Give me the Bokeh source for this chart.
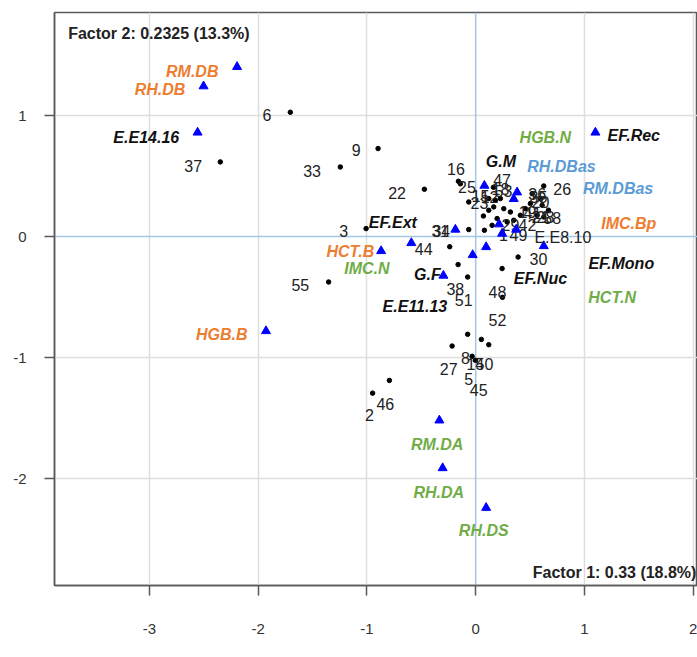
from bokeh.plotting import figure
from bokeh.models import Range1d, FixedTicker, Span, Label, ColumnDataSource
from bokeh.embed import file_html
from bokeh.resources import INLINE
from bokeh.core.properties import value

# ---------------- data ----------------
# individuals (black dots): coordinates on factor 1 / factor 2
ind_id = ["6", "37", "33", "9", "22", "16", "25", "3", "55", "44", "31", "34",
          "38", "51", "48", "52", "30", "27", "8", "14", "50", "5", "45", "46", "2", "26",
          "23", "15", "12", "18", "47", "53", "36", "35", "20", "19", "41", "21", "28",
          "58", "29", "42", "49", "1", "", "", "", "", ""]
ind_f1 = [-1.705, -2.349, -1.245, -0.898, -0.472, -0.159, -0.141, -1.008, -1.353, -0.239, -0.064, 0.080,
          -0.162, -0.074, 0.243, 0.246, 0.390, -0.217, -0.074, 0.052, 0.120, -0.033, -0.003, -0.794, -0.948, 0.626,
          -0.064, 0.120, 0.181, 0.227, 0.163, 0.258, 0.519, 0.595, 0.503, 0.457, 0.611, 0.565, 0.626,
          0.669, 0.319, 0.411, 0.350, 0.289, 0.071, 0.120, 0.197, 0.151, 0.166]
ind_f2 = [1.027, 0.617, 0.575, 0.727, 0.391, 0.457, 0.436, 0.066, -0.375, -0.084, 0.058, 0.052,
          -0.231, -0.334, -0.264, -0.502, -0.169, -0.904, -0.807, -0.849, -0.893, -0.989, -1.022, -1.188, -1.293, 0.418,
          0.286, 0.314, 0.300, 0.314, 0.407, 0.231, 0.355, 0.314, 0.273, 0.231, 0.259, 0.176, 0.162,
          0.218, 0.203, 0.176, 0.135, 0.121, 0.170, 0.217, 0.149, 0.093, 0.245]
# where each individual's number is written
ind_lab_f1 = [-1.919, -2.598, -1.505, -1.100, -0.723, -0.182, -0.081, -1.215, -1.613, -0.478, -0.325, -0.316,
              -0.187, -0.110, 0.200, 0.200, 0.577, -0.248, -0.095, -0.003, 0.080, -0.064, 0.028, -0.831, -0.978, 0.795,
              0.034, 0.043, 0.126, 0.227, 0.243, 0.255, 0.565, 0.577, 0.595, 0.476, 0.522, 0.595, 0.641,
              0.703, 0.319, 0.476, 0.393, 0.255, 0.071, 0.120, 0.197, 0.151, 0.166]
ind_lab_f2 = [1.002, 0.583, 0.542, 0.713, 0.364, 0.562, 0.412, 0.046, -0.402, -0.099, 0.046, 0.046,
              -0.430, -0.521, -0.458, -0.688, -0.188, -1.091, -1.000, -1.050, -1.055, -1.174, -1.264, -1.380, -1.477, 0.391,
              0.275, 0.333, 0.325, 0.391, 0.465, 0.374, 0.350, 0.325, 0.283, 0.201, 0.192, 0.159, 0.159,
              0.154, 0.093, 0.093, 0.011, 0.011, 0.170, 0.217, 0.149, 0.093, 0.245]

# variable categories (blue triangles)
cat_f1 = [-2.195, -2.503, -2.558, -1.929, -0.870, -0.592, -0.297, -0.187, -0.028, 0.096, 0.080,
          0.381, 0.350, 0.215, 0.243, 0.372, 0.626, 1.101, -0.334, -0.304, 0.096]
cat_f2 = [1.402, 1.242, 0.860, -0.780, -0.119, -0.053, -0.322, 0.058, -0.152, -0.086, 0.421,
          0.366, 0.311, 0.102, 0.025, 0.058, -0.078, 0.860, -1.518, -1.912, -2.240]

# category names and where they are written
cat_name = ["RM.DB", "RH.DB", "E.E14.16", "HGB.B", "HCT.B", "IMC.N", "G.F", "EF.Ext", "E.E11.13",
            "EF.Nuc", "G.M", "HGB.N", "RH.DBas", "RM.DBas", "IMC.Bp", "E.E8.10", "EF.Rec",
            "EF.Mono", "HCT.N", "RM.DA", "RH.DA", "RH.DS"]
cat_lab_f1 = [-2.607, -2.903, -3.030, -2.335, -1.153, -1.001, -0.444, -0.762, -0.559,
              0.595, 0.232, 0.641, 0.789, 1.310, 1.408, 0.802, 1.454,
              1.339, 1.255, -0.355, -0.340, 0.074]
cat_lab_f2 = [1.366, 1.217, 0.821, -0.807, -0.121, -0.266, -0.312, 0.118, -0.576,
              -0.347, 0.617, 0.818, 0.583, 0.397, 0.107, -0.008, 0.837,
              -0.223, -0.499, -1.717, -2.111, -2.427]
cat_group = ["orange", "orange", "black", "orange", "orange", "green", "black", "black", "black",
             "black", "black", "green", "blue", "blue", "orange", "plain", "black",
             "black", "green", "green", "green", "green"]

x_ticks = [-3, -2, -1, 0, 1, 2]
y_ticks = [-2, -1, 0, 1]
f1_title = "Factor 1: 0.33 (18.8%)"
f2_title = "Factor 2: 0.2325 (13.3%)"

# ---------------- styles ----------------
palette = {"orange": "#ED7D31", "green": "#70AD47", "blue": "#5B9BD5", "black": "#111111", "plain": "#222222"}
FONT = value("Liberation Sans")
FRAME = "#595959"

p = figure(width=697, height=657,
           x_range=Range1d(-3.874, 2.040), y_range=Range1d(-2.882, 1.851),
           output_backend="svg", toolbar_location=None,
           min_border_left=54, min_border_right=0, min_border_top=12, min_border_bottom=72)
p.background_fill_color = "white"
p.border_fill_color = "white"
p.outline_line_color = FRAME
p.outline_line_width = 1.5

for ax, ticks in ((p.xaxis, x_ticks), (p.yaxis, y_ticks)):
    ax.ticker = FixedTicker(ticks=ticks)
    ax.major_label_overrides = {t: str(t) for t in ticks}
    ax.axis_line_color = FRAME
    ax.axis_line_width = 1.5
    ax.major_tick_line_color = FRAME
    ax.major_tick_line_width = 1.5
    ax.major_tick_out = 10
    ax.major_tick_in = 0
    ax.minor_tick_line_color = None
    ax.major_label_text_font = "Liberation Sans"
    ax.major_label_text_font_size = "15px"
    ax.major_label_text_color = "#333333"
p.xaxis.major_label_standoff = 28
p.yaxis.major_label_standoff = 18

p.xgrid.ticker = FixedTicker(ticks=[t for t in x_ticks if t != 0])
p.ygrid.ticker = FixedTicker(ticks=[t for t in y_ticks if t != 0])
p.grid.grid_line_color = "#dedede"
p.grid.grid_line_width = 1.5

p.add_layout(Span(location=0, dimension="height", line_color="#a4c6e6", line_width=1.5, level="underlay"))
p.add_layout(Span(location=0, dimension="width", line_color="#a4c6e6", line_width=1.5, level="underlay"))

# individuals
ind_src = ColumnDataSource(dict(x=ind_f1, y=ind_f2, lx=ind_lab_f1, ly=ind_lab_f2, t=ind_id))
p.scatter("x", "y", source=ind_src, marker="circle", size=4.5, color="black")
p.text("lx", "ly", text="t", source=ind_src, text_font=FONT, text_font_size="16px",
       text_color="#222222", text_align="center", text_baseline="middle")

# categories
p.scatter(cat_f1, cat_f2, marker="triangle", size=9, color="#0000FF")
bold_idx = [i for i, g in enumerate(cat_group) if g != "plain"]
plain_idx = [i for i, g in enumerate(cat_group) if g == "plain"]
bold_src = ColumnDataSource(dict(x=[cat_lab_f1[i] for i in bold_idx], y=[cat_lab_f2[i] for i in bold_idx],
                                 t=[cat_name[i] for i in bold_idx], c=[palette[cat_group[i]] for i in bold_idx]))
plain_src = ColumnDataSource(dict(x=[cat_lab_f1[i] for i in plain_idx], y=[cat_lab_f2[i] for i in plain_idx],
                                  t=[cat_name[i] for i in plain_idx], c=[palette[cat_group[i]] for i in plain_idx]))
p.text("x", "y", text="t", source=bold_src, text_font=FONT, text_font_size="16px",
       text_font_style="bold italic", text_color="c", text_align="center", text_baseline="middle")
p.text("x", "y", text="t", source=plain_src, text_font=FONT, text_font_size="16px",
       text_color="c", text_align="center", text_baseline="middle")

p.add_layout(Label(x=-3.748, y=1.680, text=f2_title, text_font="Liberation Sans", text_font_size="16px",
                   text_font_style="bold", text_color="#222222", text_baseline="middle", text_align="left"))
p.add_layout(Label(x=2.030, y=-2.772, text=f1_title, text_font="Liberation Sans", text_font_size="16px",
                   text_font_style="bold", text_color="#222222", text_baseline="middle", text_align="right"))

open("out.html", "w").write(file_html(p, INLINE))
